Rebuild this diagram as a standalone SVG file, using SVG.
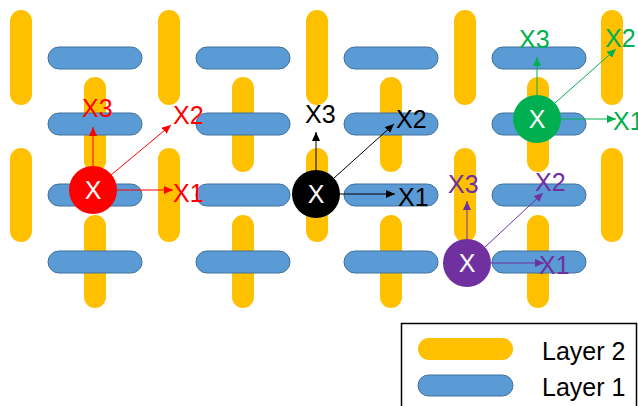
<svg xmlns="http://www.w3.org/2000/svg" width="638" height="406" viewBox="0 0 638 406">
<style>
.y{fill:#FFC000}
.b{fill:#5B9BD5;stroke:#41719C;stroke-width:1}
.t{font-family:"Liberation Sans",Arial,sans-serif;font-size:25px}
.w{fill:#fff;text-anchor:middle}
.ar{fill:none;stroke-width:1}
</style>
<defs>
<marker id="mr" markerUnits="userSpaceOnUse" markerWidth="9" markerHeight="8" refX="9" refY="4" orient="auto"><path d="M0,0 L9,4 L0,8 z" fill="#FF0000"/></marker>
<marker id="mk" markerUnits="userSpaceOnUse" markerWidth="9" markerHeight="8" refX="9" refY="4" orient="auto"><path d="M0,0 L9,4 L0,8 z" fill="#000"/></marker>
<marker id="mg" markerUnits="userSpaceOnUse" markerWidth="9" markerHeight="8" refX="9" refY="4" orient="auto"><path d="M0,0 L9,4 L0,8 z" fill="#00B050"/></marker>
<marker id="mp" markerUnits="userSpaceOnUse" markerWidth="9" markerHeight="8" refX="9" refY="4" orient="auto"><path d="M0,0 L9,4 L0,8 z" fill="#7030A0"/></marker>
</defs>
<g id="layer2">
<rect class="y" x="10" y="10" width="22" height="95" rx="11"/>
<rect class="y" x="10" y="148" width="22" height="94" rx="11"/>
<rect class="y" x="84" y="77" width="22" height="95" rx="11"/>
<rect class="y" x="84" y="215" width="22" height="93" rx="11"/>
<rect class="y" x="158" y="10" width="22" height="95" rx="11"/>
<rect class="y" x="158" y="148" width="22" height="94" rx="11"/>
<rect class="y" x="232" y="77" width="22" height="95" rx="11"/>
<rect class="y" x="232" y="215" width="22" height="93" rx="11"/>
<rect class="y" x="306" y="10" width="22" height="95" rx="11"/>
<rect class="y" x="306" y="148" width="22" height="94" rx="11"/>
<rect class="y" x="380" y="77" width="22" height="95" rx="11"/>
<rect class="y" x="380" y="215" width="22" height="93" rx="11"/>
<rect class="y" x="454" y="10" width="22" height="95" rx="11"/>
<rect class="y" x="454" y="148" width="22" height="94" rx="11"/>
<rect class="y" x="527" y="77" width="22" height="95" rx="11"/>
<rect class="y" x="527" y="215" width="22" height="93" rx="11"/>
<rect class="y" x="601" y="10" width="22" height="95" rx="11"/>
<rect class="y" x="601" y="148" width="22" height="94" rx="11"/>
</g>
<g id="layer1">
<rect class="b" x="48" y="47" width="94" height="22" rx="11"/>
<rect class="b" x="48" y="113" width="94" height="22" rx="11"/>
<rect class="b" x="48" y="184" width="94" height="22" rx="11"/>
<rect class="b" x="48" y="251" width="94" height="22" rx="11"/>
<rect class="b" x="196" y="47" width="94" height="22" rx="11"/>
<rect class="b" x="196" y="113" width="94" height="22" rx="11"/>
<rect class="b" x="196" y="184" width="94" height="22" rx="11"/>
<rect class="b" x="196" y="251" width="94" height="22" rx="11"/>
<rect class="b" x="344" y="47" width="94" height="22" rx="11"/>
<rect class="b" x="344" y="113" width="94" height="22" rx="11"/>
<rect class="b" x="344" y="184" width="94" height="22" rx="11"/>
<rect class="b" x="344" y="251" width="94" height="22" rx="11"/>
<rect class="b" x="492" y="47" width="94" height="22" rx="11"/>
<rect class="b" x="492" y="113" width="94" height="22" rx="11"/>
<rect class="b" x="492" y="184" width="94" height="22" rx="11"/>
<rect class="b" x="492" y="251" width="94" height="22" rx="11"/>
</g>
<g id="connectors">
<line class="ar" stroke="#FF0000" marker-end="url(#mr)" x1="117" y1="190" x2="173" y2="190"/>
<line class="ar" stroke="#FF0000" marker-end="url(#mr)" x1="111" y1="175" x2="171" y2="125"/>
<line class="ar" stroke="#FF0000" marker-end="url(#mr)" x1="93" y1="166" x2="93" y2="127"/>
<line class="ar" stroke="#000" marker-end="url(#mk)" x1="340" y1="194" x2="395" y2="194"/>
<line class="ar" stroke="#000" marker-end="url(#mk)" x1="334" y1="178" x2="394" y2="124"/>
<line class="ar" stroke="#000" marker-end="url(#mk)" x1="316" y1="170" x2="316" y2="132"/>
<line class="ar" stroke="#00B050" marker-end="url(#mg)" x1="561" y1="119" x2="616" y2="119"/>
<line class="ar" stroke="#00B050" marker-end="url(#mg)" x1="555" y1="103" x2="616" y2="49"/>
<line class="ar" stroke="#00B050" marker-end="url(#mg)" x1="537" y1="95" x2="537" y2="57"/>
<line class="ar" stroke="#7030A0" marker-end="url(#mp)" x1="491" y1="263" x2="544" y2="263"/>
<line class="ar" stroke="#7030A0" marker-end="url(#mp)" x1="485" y1="247" x2="543" y2="193"/>
<line class="ar" stroke="#7030A0" marker-end="url(#mp)" x1="467" y1="239" x2="467" y2="201"/>
</g>
<g id="node-red">
<circle cx="93" cy="190" r="24" fill="#FF0000"/>
<text class="t w" x="93" y="199">X</text>
<text class="t" fill="#FF0000" x="82" y="117">X3</text>
<text class="t" fill="#FF0000" x="173" y="124">X2</text>
<text class="t" fill="#FF0000" x="173" y="202">X1</text>
</g>
<g id="node-black">
<circle cx="316" cy="194" r="24" fill="#000"/>
<text class="t w" x="316" y="203">X</text>
<text class="t" fill="#000" x="305" y="123">X3</text>
<text class="t" fill="#000" x="396" y="128">X2</text>
<text class="t" fill="#000" x="398" y="206">X1</text>
</g>
<g id="node-green">
<circle cx="537" cy="119" r="24" fill="#00B050"/>
<text class="t w" x="537" y="128">X</text>
<text class="t" fill="#00B050" x="519" y="48">X3</text>
<text class="t" fill="#00B050" x="605" y="47">X2</text>
<text class="t" fill="#00B050" x="613" y="130">X1</text>
</g>
<g id="node-purple">
<circle cx="467" cy="263" r="24" fill="#7030A0"/>
<text class="t w" x="467" y="272">X</text>
<text class="t" fill="#7030A0" x="448" y="193">X3</text>
<text class="t" fill="#7030A0" x="535" y="191">X2</text>
<text class="t" fill="#7030A0" x="539" y="274">X1</text>
</g>
<g id="legend">
<rect x="401.5" y="323.5" width="235" height="90" fill="#fff" stroke="#000" stroke-width="1.5"/>
<rect class="y" x="418" y="338" width="95" height="22" rx="11"/>
<rect class="b" x="418" y="375" width="95" height="21" rx="10.5"/>
<text class="t" fill="#000" x="542" y="360">Layer 2</text>
<text class="t" fill="#000" x="542" y="396">Layer 1</text>
</g>
</svg>
